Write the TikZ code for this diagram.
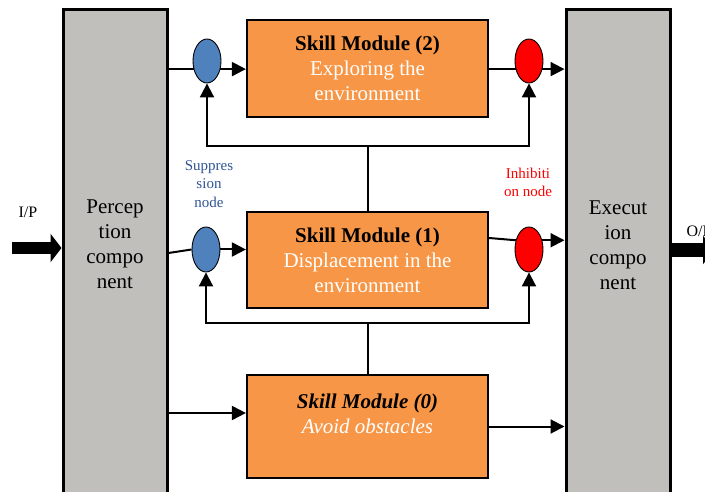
\documentclass[tikz,border=0pt]{standalone}
\usepackage{fontspec}
\setmainfont{Liberation Serif}
\usetikzlibrary{arrows.meta,shapes.geometric,positioning}
\definecolor{compgray}{RGB}{192, 191, 187}
\definecolor{skillorange}{RGB}{247, 150, 70}
\definecolor{suppblue}{RGB}{79, 129, 189}
\definecolor{supptext}{RGB}{47, 84, 150}
\definecolor{inhred}{RGB}{255, 0, 0}

\begin{document}
\begin{tikzpicture}[x=1pt, y=-1pt, every node/.style={font=\fontsize{21}{25}\selectfont},
    comp/.style={draw=black, line width=3pt, fill=compgray, minimum width=104pt, minimum height=520pt, inner sep=0pt},
    skill/.style={draw=black, line width=2.2pt, fill=skillorange, minimum width=241pt, align=center, inner sep=0pt},
    supp/.style={ellipse, draw=black, line width=0.9pt, fill=suppblue, minimum width=28pt, minimum height=44pt, inner sep=0pt},
    inh/.style={supp, fill=inhred},
    note/.style={align=center, font=\fontsize{15}{18.5}\selectfont},
    wire/.style={line width=2pt},
    link/.style={wire, -{Triangle[length=14pt, width=14pt]}},
    bigarrow/.style={-{Triangle[length=11pt, width=28pt]}}]
\useasboundingbox (0,0) rectangle (705,492);

% Perception and execution components
\node[comp] (perc) at (115,270) {};
\node[align=center] (perctext) at (115,244) {Percep\\tion\\compo\\nent};
\node[comp] (exec) at (618,270) {};
\node[align=center] (exectext) at (618,245) {Execut\\ion\\compo\\nent};

% Skill modules
\node[skill, minimum height=97pt] (skill2) at (367.5,68.5) {\textbf{Skill Module (2)}\\\textcolor{white}{Exploring the}\\\textcolor{white}{environment}};
\node[skill, minimum height=96pt] (skill1) at (367.5,260) {\textbf{Skill Module (1)}\\\textcolor{white}{Displacement in the}\\\textcolor{white}{environment}};
\node[skill, minimum height=103pt] (skill0) at (367.5,426.5) {\textbf{\textit{Skill Module (0)}}\\\textcolor{white}{\textit{Avoid obstacles}}\\\mbox{}};

% Suppression and inhibition nodes
\node[supp] (supp2) at (207,61) {};
\node[inh] (inh2) at (529,61) {};
\node[supp, minimum height=45pt] (supp1) at (206,249.5) {};
\node[inh, minimum height=45pt] (inh1) at (529,249.5) {};

\node[note, text=supptext] (supplabel) at (209,184) {Suppres\\sion\\node};
\node[note, text=inhred] (inhlabel) at (528,182.5) {Inhibiti\\on node};

% Top row
\draw[wire] (perc.east |- supp2.211) -- (supp2.211);
\draw[link] (supp2.329) -- (supp2.329 -| skill2.west);
\draw[wire] (skill2.east |- inh2.211) -- (inh2.211);
\draw[link] (inh2.329) -- (inh2.329 -| exec.west);

% Middle row
\coordinate (in1) at (perc.east |- 0,253);
\draw[wire] (in1) -- (supp1.west);
\draw[link] (supp1.east) -- (supp1.east -| skill1.west);
\coordinate (out1) at (skill1.east |- 0,238);
\draw[wire] (out1) -- (inh1.145);
\draw[link] (inh1.35) -- (inh1.35 -| exec.west);

% Feedback from module 1 to the nodes of module 2
\coordinate (fb2) at (367.5,146);
\draw[wire] (skill1.north) -- (fb2);
\draw[link] (fb2) -| (supp2.south);
\draw[link] (fb2) -| (inh2.south);

% Feedback from module 0 to the nodes of module 1
\coordinate (fb1) at (367.5,323);
\draw[wire] (skill0.north) -- (fb1);
\draw[link] (fb1) -| (supp1.south);
\draw[link] (fb1) -| (inh1.south);

% Bottom row
\coordinate (in0) at (perc.east |- 0,413);
\draw[link] (in0) -- (in0 -| skill0.west);
\draw[link] (skill0.east) -- (skill0.east -| exec.west);

% Input and output
\coordinate (ipstart) at (12,248);
\draw[bigarrow, line width=12pt] (ipstart) -- (ipstart -| perc.west);
\node[font=\fontsize{16}{19}\selectfont] (iplabel) at (28,212) {I/P};
\coordinate (opend) at (714,250);
\draw[bigarrow, line width=14pt] (opend -| exec.east) -- (opend);
\node[font=\fontsize{16}{19}\selectfont, anchor=west] (oplabel) at (683,231) {O/P};
\end{tikzpicture}
\end{document}
